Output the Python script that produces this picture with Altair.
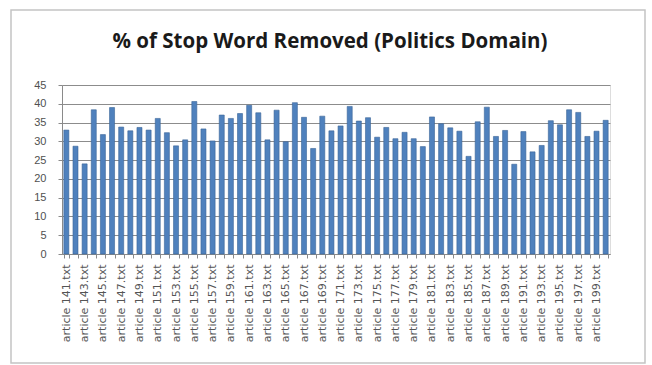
import altair as alt
import pandas as pd

# Percentage of stop words removed per article, politics domain (articles 141-200)
article_ids = list(range(141, 201))
removed_pct = [
    33.0, 28.7, 24.0, 38.4, 31.8, 39.0, 33.8, 32.8, 33.7, 33.0,
    36.1, 32.3, 28.8, 30.4, 40.6, 33.3, 30.1, 37.0, 36.1, 37.4,
    39.6, 37.6, 30.4, 38.3, 29.9, 40.3, 36.4, 28.1, 36.7, 32.8,
    34.1, 39.3, 35.4, 36.3, 31.1, 33.7, 30.7, 32.4, 30.7, 28.6,
    36.5, 34.7, 33.6, 32.7, 26.0, 35.2, 39.1, 31.3, 32.9, 23.9,
    32.6, 27.2, 28.9, 35.5, 34.4, 38.4, 37.7, 31.3, 32.7, 35.6,
]
y_ticks = list(range(0, 50, 5))
chart_title = "% of Stop Word Removed (Politics Domain)"

labels = [f"article {i}.txt" for i in article_ids]
df = pd.DataFrame({"article": labels, "pct": removed_pct})

W, H = 548, 169
PAD = {"left": 62, "top": 85, "right": 42, "bottom": 111}

bars = alt.Chart(df).mark_bar(
    color="#4F81BD", stroke="#3A6497", strokeWidth=0.6
).encode(
    x=alt.X(
        "article:N",
        sort=labels,
        title=None,
        scale=alt.Scale(paddingInner=0.45, paddingOuter=0.2),
        axis=alt.Axis(
            labelAngle=-90,
            labelFontSize=11,
            labelFont="DejaVu Sans",
            labelColor="#555555",
            labelPadding=6,
            labelExpr="parseInt(substring(datum.label, 8, 11)) % 2 == 1 ? datum.label : ''",
            tickBand="extent",
            tickSize=4,
            tickColor="#8a8a8a",
            domainColor="#8a8a8a",
            grid=False,
            labelOverlap=False,
        ),
    ),
    y=alt.Y(
        "pct:Q",
        title=None,
        scale=alt.Scale(domain=[0, 45], nice=False),
        axis=alt.Axis(
            values=y_ticks,
            labelFontSize=11,
            labelFont="Liberation Sans",
            labelColor="#505050",
            labelPadding=12,
            tickSize=4,
            tickColor="#8a8a8a",
            domainColor="#8a8a8a",
            gridColor="#8c8c8c",
            gridWidth=1,
        ),
    ),
)

one = pd.DataFrame({"title": [chart_title]})

# Outer chart frame
frame = alt.Chart(one).mark_rect(
    fill=None, stroke="#c4c4c4", strokeWidth=1.5
).encode(
    x=alt.value(-51), x2=alt.value(583),
    y=alt.value(-75), y2=alt.value(278),
)

# Chart heading, centred above the plot
heading = alt.Chart(one).mark_text(
    font="Open Sans", fontSize=20.5, fontWeight="bold", color="#1a1a1a",
    align="center", baseline="middle",
).encode(
    text="title:N",
    x=alt.value(268),
    y=alt.value(-43),
)

chart = alt.layer(frame, heading, bars).properties(
    width=W,
    height=H,
    autosize=alt.AutoSizeParams(type="none"),
    padding=PAD,
).configure_view(stroke=None).configure(background="white")

chart.save("out.html", embed_options={"renderer": "svg", "actions": False})
